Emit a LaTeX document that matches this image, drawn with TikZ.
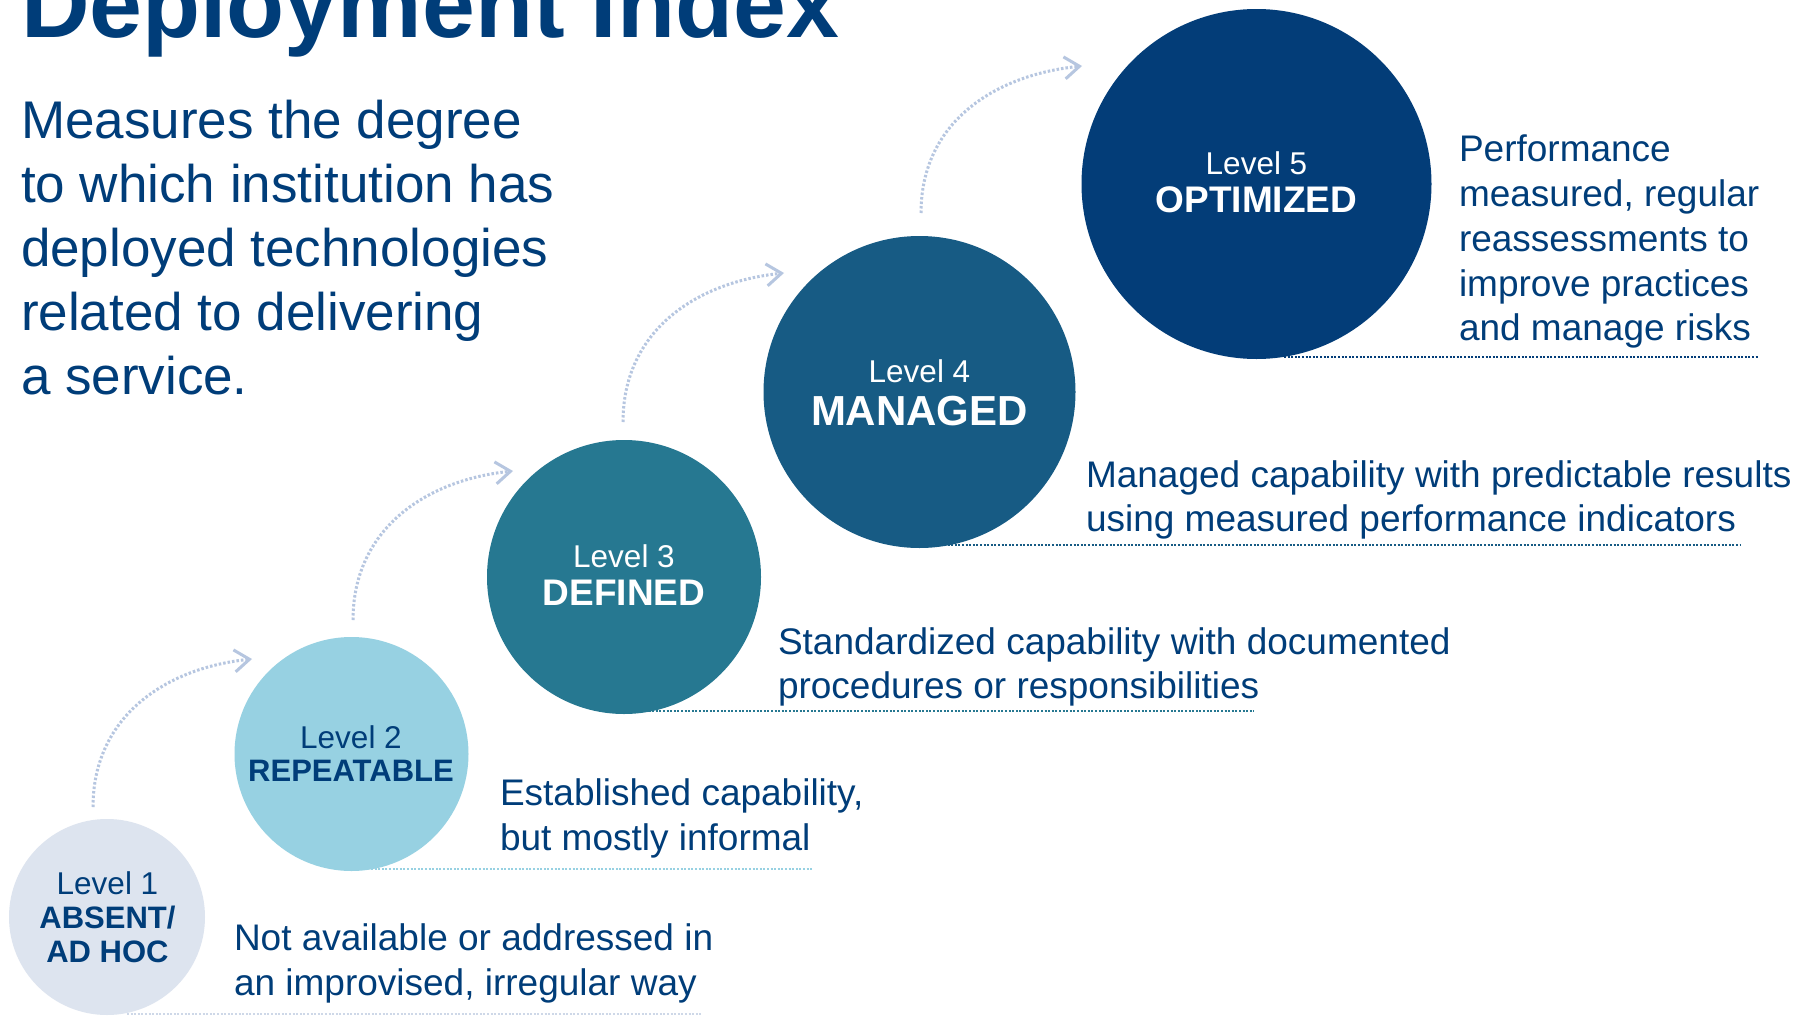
\documentclass[tikz,border=0pt]{standalone}
\usepackage{fontspec}
\setmainfont{Liberation Sans}
\usetikzlibrary{arrows.meta}
\definecolor{navy}{RGB}{0,61,121}
\definecolor{lvla}{RGB}{221,228,239}
\definecolor{lvlb}{RGB}{151,209,226}
\definecolor{lvlc}{RGB}{38,120,145}
\definecolor{lvld}{RGB}{23,91,132}
\definecolor{lvle}{RGB}{3,61,120}
\definecolor{arrcol}{RGB}{182,198,224}
\definecolor{ulinea}{RGB}{206,216,232}
\tikzset{
  lvlcircle/.style={circle, inner sep=0pt, draw=none},
  txt/.style={inner sep=0pt, outer sep=0pt},
  lvlname/.style={txt, anchor=base, font=\fontsize{31.5}{38}\selectfont},
  lvlbold/.style={txt, anchor=base, font=\fontsize{#1}{#1}\selectfont\bfseries},
  desc/.style={txt, anchor=base west, text=navy, font=\fontsize{37}{44}\selectfont},
  subt/.style={txt, anchor=base west, text=navy, font=\fontsize{53}{64}\selectfont},
  uline/.style={line width=2pt, dash pattern=on 2pt off 1.6pt},
  arr/.style={draw=arrcol, line width=3pt, dash pattern=on 2.5pt off 2pt,
    -{Straight Barb[length=15pt,width=22pt,line width=3pt]}}
}
\begin{document}
\begin{tikzpicture}[x=1pt,y=1pt]
\fill[white] (0,0) rectangle (1816,-1017);
\clip (0,0) rectangle (1816,-1017);

% title
\node[txt, anchor=base west, text=navy, font=\fontsize{95}{114}\selectfont\bfseries] (title) at (21,-37.5) {Deployment Index};

% subtitle
\node[subt] (s1) at (21,-138) {Measures the degree};
\node[subt] (s2) at (21,-202) {to which institution has};
\node[subt] (s3) at (21,-266) {deployed technologies};
\node[subt] (s4) at (21,-330) {related to delivering};
\node[subt] (s5) at (21,-394) {a service.};

% circles
\node[lvlcircle, fill=lvla, minimum size=196pt] (c1) at (107,-917) {};
\node[lvlcircle, fill=lvlb, minimum size=234pt] (c2) at (351.5,-754) {};
\node[lvlcircle, fill=lvlc, minimum size=274pt] (c3) at (624,-577) {};
\node[lvlcircle, fill=lvld, minimum size=312pt] (c4) at (919.5,-392) {};
\node[lvlcircle, fill=lvle, minimum size=350pt] (c5) at (1256.5,-184) {};

% circle labels
\node[lvlname, text=navy] (l1a) at (107.5,-894) {Level 1};
\node[lvlbold=31, text=navy] (l1b) at (107.5,-928) {ABSENT/};
\node[lvlbold=31, text=navy] (l1c) at (107.5,-962) {AD HOC};
\node[lvlname, text=navy] (l2a) at (351,-748) {Level 2};
\node[lvlbold=31, text=navy] (l2b) at (351,-781) {REPEATABLE};
\node[lvlname, text=white] (l3a) at (624,-567) {Level 3};
\node[lvlbold=37, text=white] (l3b) at (624,-605) {DEFINED};
\node[lvlname, text=white] (l4a) at (919.5,-382) {Level 4};
\node[lvlbold=42, text=white] (l4b) at (919.5,-425) {MANAGED};
\node[lvlname, text=white] (l5a) at (1256.5,-174) {Level 5};
\node[lvlbold=37, text=white] (l5b) at (1256.5,-212) {OPTIMIZED};

% descriptions
\node[desc] (d1a) at (234,-950) {Not available or addressed in};
\node[desc] (d1b) at (234,-995) {an improvised, irregular way};
\node[desc] (d2a) at (500,-805) {Established capability,};
\node[desc] (d2b) at (500,-850) {but mostly informal};
\node[desc] (d3a) at (778,-654) {Standardized capability with documented};
\node[desc] (d3b) at (778,-698) {procedures or responsibilities};
\node[desc] (d4a) at (1086,-487) {Managed capability with predictable results};
\node[desc] (d4b) at (1086,-531) {using measured performance indicators};
\node[desc] (d5a) at (1459,-161) {Performance};
\node[desc] (d5b) at (1459,-206) {measured, regular};
\node[desc] (d5c) at (1459,-251) {reassessments to};
\node[desc] (d5d) at (1459,-296) {improve practices};
\node[desc] (d5e) at (1459,-340) {and manage risks};

% dotted underlines
\coordinate (u1s) at (127,-1014);  \coordinate (u1e) at (701,-1014);
\coordinate (u2s) at (371,-869);   \coordinate (u2e) at (813,-869);
\coordinate (u3s) at (645,-711);   \coordinate (u3e) at (1254,-711);
\coordinate (u4s) at (944,-545);   \coordinate (u4e) at (1740,-545);
\coordinate (u5s) at (1284,-357);  \coordinate (u5e) at (1758,-357);
\draw[uline, draw=ulinea] (u1s) -- (u1e);
\draw[uline, draw=lvlb] (u2s) -- (u2e);
\draw[uline, draw=lvlc] (u3s) -- (u3e);
\draw[uline, draw=lvld] (u4s) -- (u4e);
\draw[uline, draw=lvle] (u5s) -- (u5e);

% curved arrows
\coordinate (a1s) at (93,-807);   \coordinate (a1e) at (252,-659);
\coordinate (a2s) at (353,-620);  \coordinate (a2e) at (513,-471);
\coordinate (a3s) at (623,-422);  \coordinate (a3e) at (784,-273);
\coordinate (a4s) at (921,-213);  \coordinate (a4e) at (1082,-66);
\draw[arr] (a1s) to[out=90,in=186,looseness=1.05] (a1e);
\draw[arr] (a2s) to[out=90,in=186,looseness=1.05] (a2e);
\draw[arr] (a3s) to[out=90,in=186,looseness=1.05] (a3e);
\draw[arr] (a4s) to[out=90,in=186,looseness=1.05] (a4e);
\end{tikzpicture}
\end{document}
